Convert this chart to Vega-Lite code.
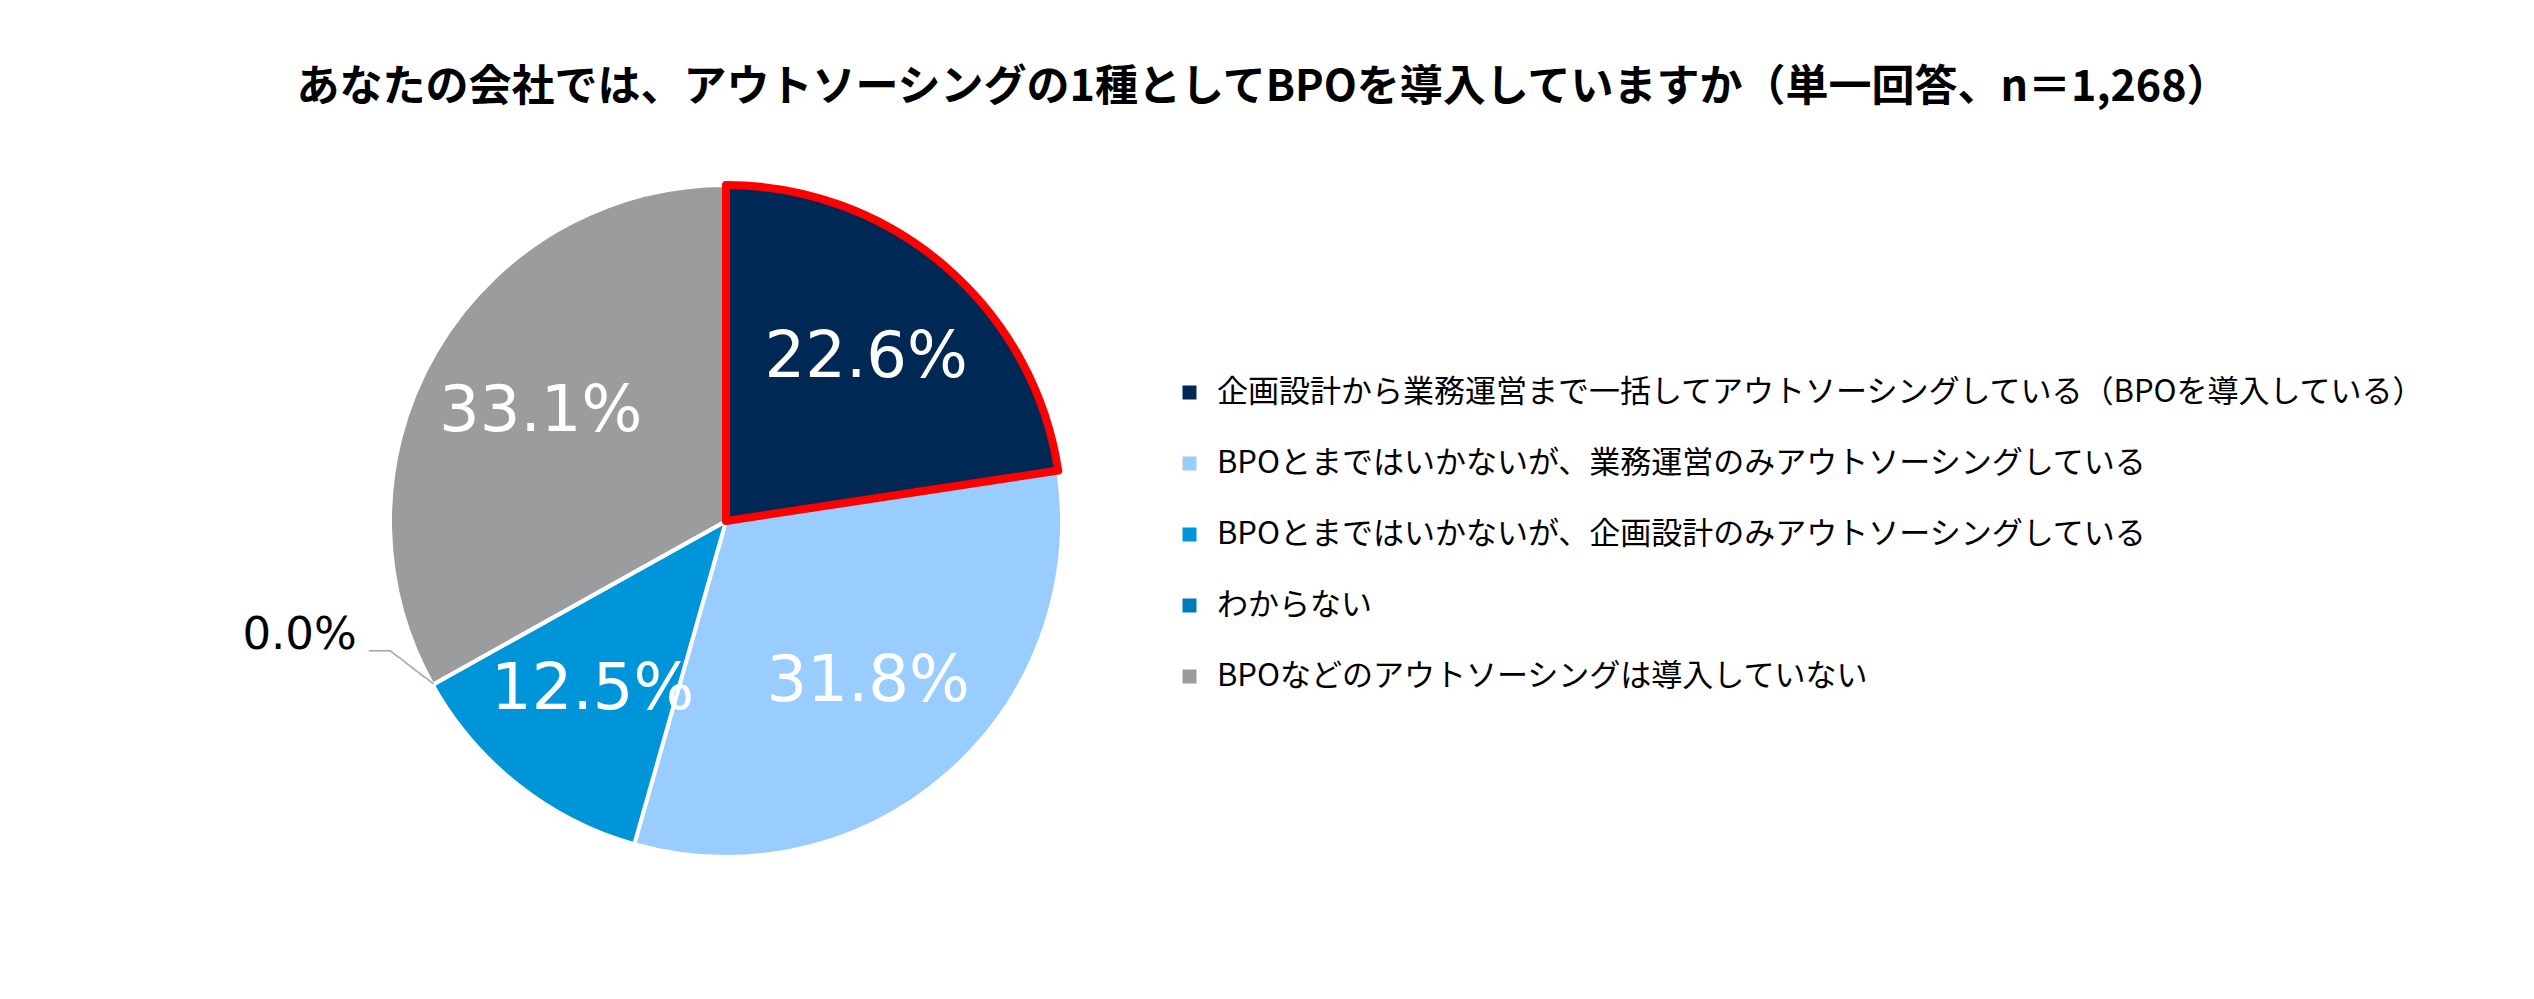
{
  "$schema": "https://vega.github.io/schema/vega-lite/v6.json",
  "autosize": {"type": "none"},
  "width": 1452,
  "height": 742,
  "padding": {"left": 0, "top": 150, "right": 1082, "bottom": 107},
  "background": "white",
  "title": {
    "text": "あなたの会社では、アウトソーシングの1種としてBPOを導入していますか（単一回答、n＝1,268）",
    "font": "Noto Sans CJK JP",
    "fontSize": 43,
    "fontWeight": "bold",
    "color": "#000000",
    "anchor": "middle",
    "frame": "group",
    "dx": 537,
    "offset": 40
  },
  "data": {
    "values": [
      {"idx": 1, "cat": "企画設計から業務運営まで一括してアウトソーシングしている（BPOを導入している）", "share": 0.226},
      {"idx": 2, "cat": "BPOとまではいかないが、業務運営のみアウトソーシングしている", "share": 0.318},
      {"idx": 3, "cat": "BPOとまではいかないが、企画設計のみアウトソーシングしている", "share": 0.125},
      {"idx": 4, "cat": "わからない", "share": 0.0},
      {"idx": 5, "cat": "BPOなどのアウトソーシングは導入していない", "share": 0.331}
    ]
  },
  "encoding": {
    "theta": {"field": "share", "type": "quantitative", "stack": true},
    "order": {"field": "idx", "type": "quantitative"}
  },
  "layer": [
    {
      "mark": {"type": "arc", "outerRadius": 336, "stroke": "white", "strokeWidth": 4},
      "encoding": {
        "color": {
          "field": "cat",
          "type": "nominal",
          "scale": {
            "domain": [
              "企画設計から業務運営まで一括してアウトソーシングしている（BPOを導入している）",
              "BPOとまではいかないが、業務運営のみアウトソーシングしている",
              "BPOとまではいかないが、企画設計のみアウトソーシングしている",
              "わからない",
              "BPOなどのアウトソーシングは導入していない"
            ],
            "range": ["#002855", "#99CCFF", "#0095D9", "#007AB8", "#9B9C9E"]
          },
          "legend": {
            "orient": "none",
            "legendX": 1174,
            "legendY": 227,
            "title": null,
            "symbolType": "square",
            "symbolSize": 196,
            "symbolStrokeWidth": 0,
            "symbolOpacity": 1,
            "labelFont": "Noto Sans CJK JP",
            "labelFontSize": 31,
            "labelColor": "#000000",
            "labelOffset": 12,
            "labelLimit": 2000,
            "rowPadding": 39,
            "padding": 0
          }
        }
      }
    },
    {
      "mark": {"type": "arc", "outerRadius": 336, "fillOpacity": 0, "stroke": "#FF0000", "strokeWidth": 8, "strokeJoin": "round"},
      "encoding": {
        "strokeOpacity": {"condition": {"test": "datum.idx == 1", "value": 1}, "value": 0}
      }
    },
    {
      "mark": {"type": "text", "radius": 215, "font": "DejaVu Sans", "fontSize": 64, "color": "white", "align": "center", "baseline": "middle"},
      "encoding": {
        "text": {"field": "share", "type": "quantitative", "format": ".1%"},
        "opacity": {"condition": {"test": "datum.share > 0", "value": 1}, "value": 0}
      }
    },
    {
      "mark": {"type": "text", "radius": 336, "dx": -133, "dy": -50, "font": "DejaVu Sans", "fontSize": 45, "color": "#000000", "align": "center", "baseline": "middle"},
      "encoding": {
        "text": {"field": "share", "type": "quantitative", "format": ".1%"},
        "opacity": {"condition": {"test": "datum.share == 0", "value": 1}, "value": 0}
      }
    },
    {
      "mark": {"type": "text", "radius": 336, "angle": 37.5, "font": "DejaVu Sans Mono", "fontSize": 18, "color": "#A6A6A6", "align": "right", "baseline": "middle"},
      "encoding": {
        "text": {"value": "─────"},
        "opacity": {"condition": {"test": "datum.share == 0", "value": 1}, "value": 0}
      }
    },
    {
      "mark": {"type": "text", "radius": 336, "dx": -42, "dy": -33, "font": "DejaVu Sans Mono", "fontSize": 18, "color": "#A6A6A6", "align": "right", "baseline": "middle"},
      "encoding": {
        "text": {"value": "──"},
        "opacity": {"condition": {"test": "datum.share == 0", "value": 1}, "value": 0}
      }
    }
  ],
  "config": {"view": {"stroke": null}}
}
